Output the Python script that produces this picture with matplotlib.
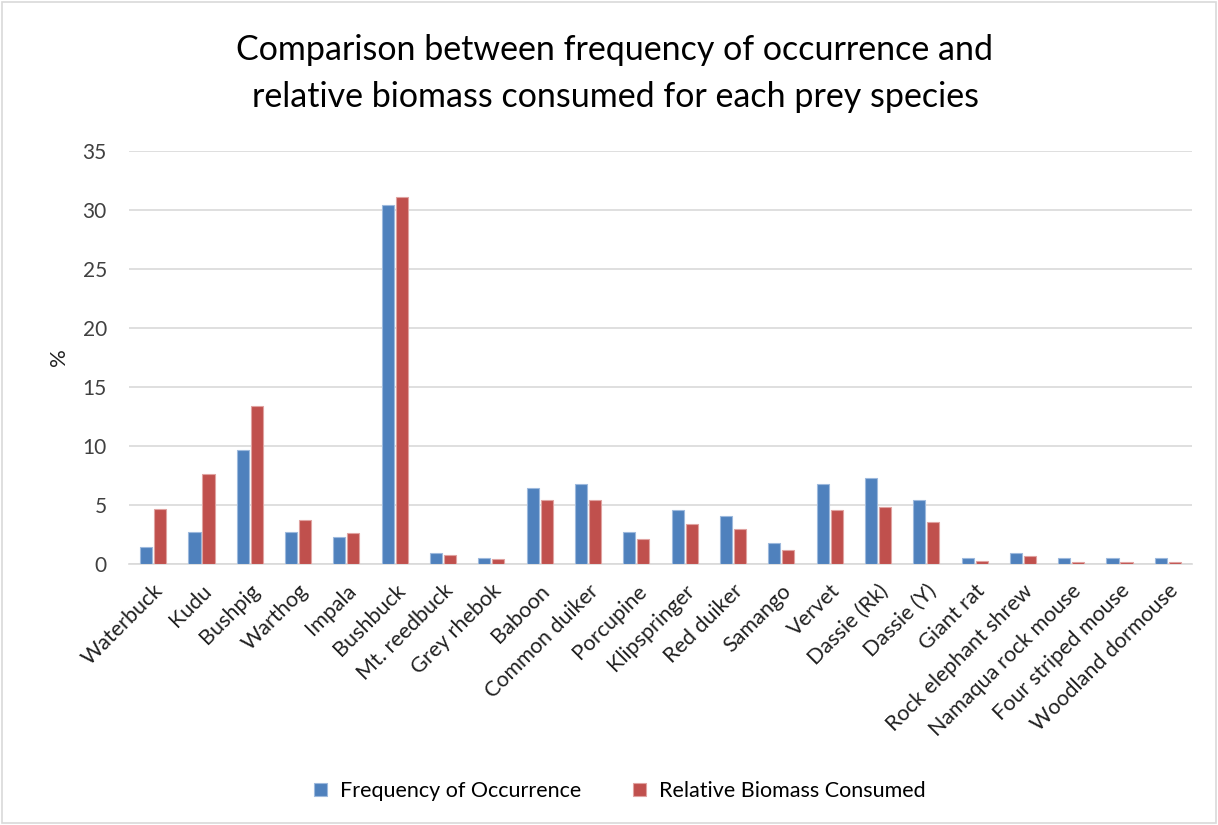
import matplotlib
matplotlib.use("Agg")
import matplotlib.pyplot as plt
import numpy as np
from matplotlib.patches import Rectangle

species = ["Waterbuck", "Kudu", "Bushpig", "Warthog", "Impala", "Bushbuck",
           "Mt. reedbuck", "Grey rhebok", "Baboon", "Common duiker", "Porcupine",
           "Klipspringer", "Red duiker", "Samango", "Vervet", "Dassie (Rk)",
           "Dassie (Y)", "Giant rat", "Rock elephant shrew", "Namaqua rock mouse",
           "Four striped mouse", "Woodland dormouse"]
frequency = [1.4, 2.7, 9.7, 2.7, 2.3, 30.4, 0.9, 0.5, 6.4, 6.8, 2.7,
             4.6, 4.1, 1.8, 6.8, 7.3, 5.4, 0.5, 0.9, 0.5, 0.5, 0.5]
biomass = [4.7, 7.6, 13.4, 3.7, 2.6, 31.1, 0.8, 0.4, 5.4, 5.4, 2.1,
           3.4, 3.0, 1.2, 4.6, 4.8, 3.6, 0.25, 0.7, 0.15, 0.15, 0.15]
yticks = [0, 5, 10, 15, 20, 25, 30, 35]

plt.rcParams['font.family'] = ['Lato', 'DejaVu Sans']

W, H = 1218, 825
fig = plt.figure(figsize=(W / 100, H / 100), dpi=100)
ax = fig.add_axes([129 / W, 1 - 564 / H, (1192 - 129) / W, (564 - 151) / H])

x = np.arange(len(species))
bw = 0.25
off = 0.145
blue = "#4F81BD"
red = "#C0504D"
ax.bar(x - off, frequency, bw, color=blue, edgecolor="#9DB9DD", linewidth=0.8,
       label="Frequency of Occurrence", zorder=3)
ax.bar(x + off, biomass, bw, color=red, edgecolor="#E0A3A1", linewidth=0.8,
       label="Relative Biomass Consumed", zorder=3)

ax.set_xlim(-0.5, len(species) - 0.5)
ax.set_ylim(0, 35)
ax.set_yticks(yticks)
ax.set_yticklabels([str(t) for t in yticks], fontsize=15, color="#404040")
ax.yaxis.grid(True, color="#D9D9D9", linewidth=1.2, zorder=0)
ax.set_axisbelow(True)
for s in ["top", "right", "left"]:
    ax.spines[s].set_visible(False)
ax.spines["bottom"].set_color("#D9D9D9")
ax.spines["bottom"].set_linewidth(1.2)
ax.tick_params(axis="y", length=0, pad=16)
ax.tick_params(axis="x", length=0, pad=12)
ax.set_xticks(x)
ax.set_xticklabels(species, rotation=45, ha="right", rotation_mode="anchor",
                   fontsize=15.5, color="#202020")
ax.set_ylabel("%", fontsize=16, color="#202020", labelpad=10)

fig.text(615 / W, 1 - 73.5 / H,
         "Comparison between frequency of occurrence and\nrelative biomass consumed for each prey species",
         ha="center", va="center", fontsize=24.5, color="#000000", linespacing=1.55)

fig.legend(loc="center", bbox_to_anchor=(620 / W, 1 - 791 / H), ncol=2,
           frameon=False, fontsize=15.5, handlelength=0.6, handleheight=0.6,
           columnspacing=2.4, handletextpad=0.6)

fig.patches.append(Rectangle((0.002, 0.002), 0.996, 0.996, transform=fig.transFigure,
                             fill=False, edgecolor="#D9D9D9", linewidth=1.2))

fig.savefig("out.png", dpi=100, facecolor="white")
